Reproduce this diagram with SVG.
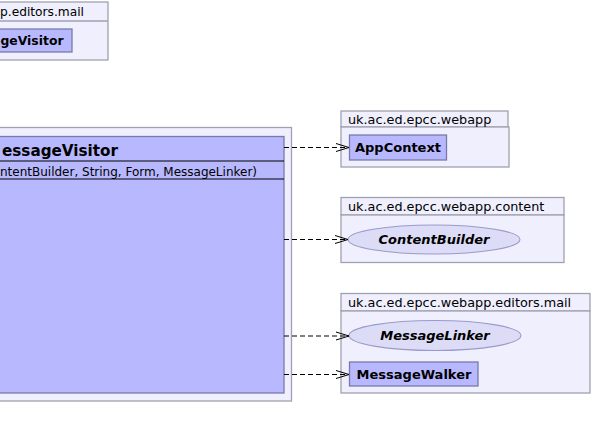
<svg xmlns="http://www.w3.org/2000/svg" width="592" height="439" viewBox="0 0 592 439">
<defs>
<marker id="open" viewBox="0 0 14 10" refX="13" refY="5" markerWidth="14" markerHeight="10" markerUnits="userSpaceOnUse" orient="auto">
<path d="M0,1 L13,5 L0,9" fill="none" stroke="#000" stroke-width="1"/>
</marker>
</defs>
<style>
.pkg{fill:#efeffd;stroke:#a0a0b0;stroke-width:1.3}
.cls{fill:#b8b8fe;stroke:#7a7aaa;stroke-width:1.3}
.ifc{fill:#dcdcf7;stroke:#9a9acc;stroke-width:1.1}
.pl{font-family:"DejaVu Sans",sans-serif;font-size:12.8px;fill:#000}
.cn{font-family:"DejaVu Sans",sans-serif;font-size:13px;font-weight:bold;fill:#000}
.in{font-family:"DejaVu Sans",sans-serif;font-size:13px;font-weight:bold;font-style:italic;fill:#000}
.dep{fill:none;stroke:#000;stroke-width:1;stroke-dasharray:5,3;marker-end:url(#open)}
.sep{stroke:#000;stroke-width:1}
</style>
<g id="pkg-editors-mail-top">
<rect class="pkg" x="-5" y="2" width="113" height="58"/>
<line x1="-5" y1="21" x2="108" y2="21" stroke="#a0a0b0" stroke-width="1.3"/>
<text class="pl" x="0" y="16" textLength="84" lengthAdjust="spacingAndGlyphs">p.editors.mail</text>
<g id="cls-MessageVisitor-top">
<rect class="cls" x="-5" y="29" width="77" height="23"/>
<text class="cn" x="0.5" y="45" textLength="63" lengthAdjust="spacingAndGlyphs">geVisitor</text>
</g>
</g>
<g id="pkg-main">
<rect class="pkg" x="-5" y="127.5" width="296.5" height="273.5"/>
<g id="cls-MessageVisitor">
<rect class="cls" x="-5" y="136.5" width="289" height="256.5"/>
<text x="2" y="155.5" font-family="DejaVu Sans,sans-serif" font-size="15.5" font-weight="bold" textLength="116" lengthAdjust="spacingAndGlyphs">essageVisitor</text>
<line class="sep" x1="-5" y1="161" x2="284" y2="161"/>
<text x="0" y="175.5" font-family="DejaVu Sans,sans-serif" font-size="12" textLength="257" lengthAdjust="spacingAndGlyphs">ntentBuilder, String, Form, MessageLinker)</text>
<line class="sep" x1="-5" y1="179" x2="284" y2="179"/>
</g>
</g>
<g id="pkg-webapp">
<rect class="pkg" x="341" y="111" width="167" height="16"/>
<rect class="pkg" x="341" y="127" width="168" height="40"/>
<text class="pl" x="348" y="123.5">uk.ac.ed.epcc.webapp</text>
<g id="cls-AppContext">
<rect class="cls" x="349.5" y="135" width="97" height="25"/>
<text class="cn" x="398" y="152" text-anchor="middle">AppContext</text>
</g>
</g>
<g id="pkg-webapp-content">
<rect class="pkg" x="341" y="197.5" width="223" height="17.5"/>
<rect class="pkg" x="341" y="215" width="223" height="47.5"/>
<text class="pl" x="348" y="210.5">uk.ac.ed.epcc.webapp.content</text>
<g id="ifc-ContentBuilder">
<ellipse class="ifc" cx="434" cy="239.5" rx="86" ry="14.5"/>
<text class="in" x="434" y="244" text-anchor="middle">ContentBuilder</text>
</g>
</g>
<g id="pkg-webapp-editors-mail">
<rect class="pkg" x="341" y="293.5" width="249" height="17.5"/>
<rect class="pkg" x="341" y="311" width="249" height="82"/>
<text class="pl" x="348" y="306.5">uk.ac.ed.epcc.webapp.editors.mail</text>
<g id="ifc-MessageLinker">
<ellipse class="ifc" cx="435" cy="335.5" rx="86" ry="15"/>
<text class="in" x="435" y="340" text-anchor="middle">MessageLinker</text>
</g>
<g id="cls-MessageWalker">
<rect class="cls" x="349.5" y="362" width="128.5" height="24"/>
<text class="cn" x="414" y="378.5" text-anchor="middle">MessageWalker</text>
</g>
</g>
<g id="connectors">
<line class="dep" x1="284" y1="147.5" x2="349" y2="147.5"/>
<line class="dep" x1="284" y1="239.5" x2="348" y2="239.5"/>
<line class="dep" x1="284" y1="336" x2="349" y2="336"/>
<line class="dep" x1="284" y1="374.5" x2="349" y2="374.5"/>
</g>
</svg>
